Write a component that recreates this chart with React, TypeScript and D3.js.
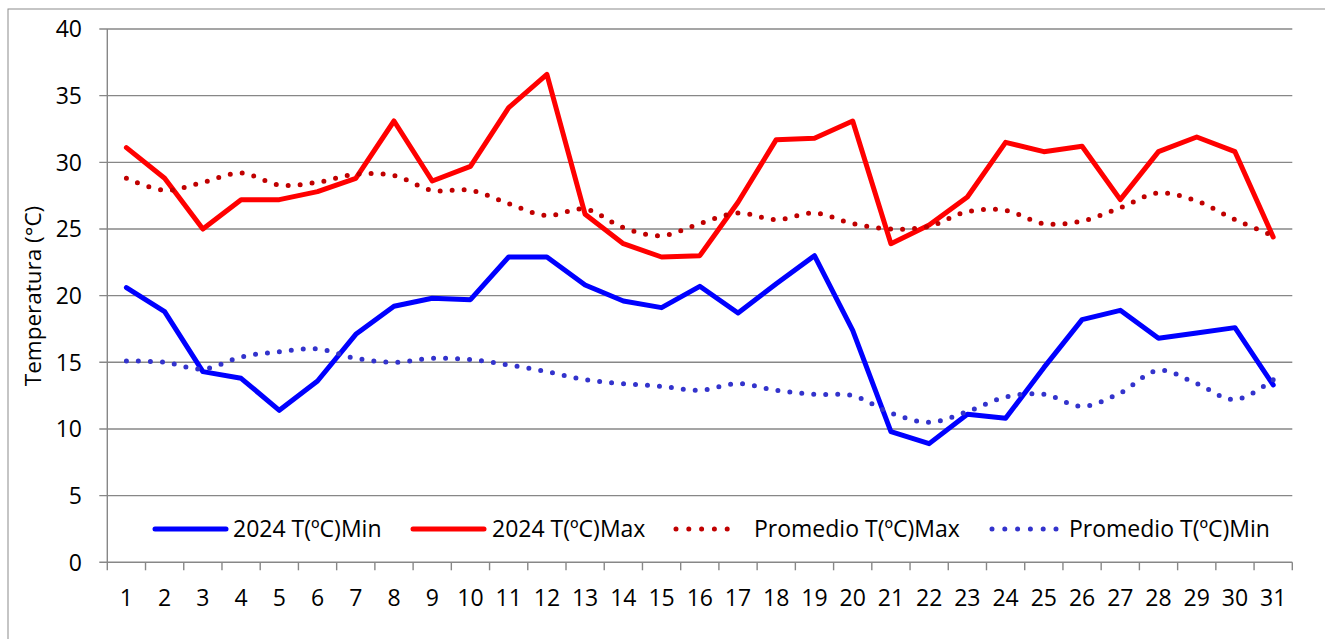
import React from "react";
import * as d3 from "d3";

// days of the month (categories)
const days = d3.range(1, 32).map(String);

const min2024 = [
  20.6, 18.8, 14.3, 13.8, 11.4, 13.6, 17.1, 19.2, 19.8, 19.7, 22.9, 22.9, 20.8, 19.6, 19.1, 20.7,
  18.7, 20.9, 23.0, 17.4, 9.8, 8.9, 11.1, 10.8, 14.6, 18.2, 18.9, 16.8, 17.2, 17.6, 13.3,
];
const max2024 = [
  31.1, 28.8, 25.0, 27.2, 27.2, 27.8, 28.8, 33.1, 28.6, 29.7, 34.1, 36.6, 26.1, 23.9, 22.9, 23.0,
  27.0, 31.7, 31.8, 33.1, 23.9, 25.3, 27.4, 31.5, 30.8, 31.2, 27.2, 30.8, 31.9, 30.8, 24.4,
];
const avgMax = [
  28.8, 27.9, 28.5, 29.2, 28.3, 28.5, 29.1, 29.0, 27.9, 27.9, 26.9, 26.0, 26.5, 25.1, 24.5, 25.4,
  26.2, 25.7, 26.2, 25.4, 25.0, 25.2, 26.3, 26.4, 25.4, 25.6, 26.6, 27.7, 27.1, 25.7, 24.5,
];
const avgMin = [
  15.1, 15.0, 14.5, 15.4, 15.8, 16.0, 15.3, 15.0, 15.3, 15.2, 14.8, 14.3, 13.7, 13.4, 13.2, 12.9,
  13.4, 12.9, 12.6, 12.5, 11.2, 10.5, 11.3, 12.4, 12.6, 11.7, 12.7, 14.4, 13.4, 12.2, 13.7,
];
const yTicks = [0, 5, 10, 15, 20, 25, 30, 35, 40];

const seriesList = [
  { name: "2024 T(ºC)Min", values: min2024, color: "#0000FF", dotted: false },
  { name: "2024 T(ºC)Max", values: max2024, color: "#FF0000", dotted: false },
  { name: "Promedio T(ºC)Max", values: avgMax, color: "#C00000", dotted: true },
  { name: "Promedio T(ºC)Min", values: avgMin, color: "#3333CC", dotted: true },
];

const W = 1325;
const H = 639;
const left = 107.3;
const right = 1292.3;
const top = 29;
const bottom = 562.3;
const font = "'Open Sans', sans-serif";
const fs = 23;
const gridColor = "#878787";

// legend item positions (symbol start, text start)
const legendPos = [
  [155, 233],
  [413, 492],
  [676, 754],
  [992, 1069],
];

export default function App() {
  const x = d3.scaleBand<string>().domain(days).range([left, right]);
  const y = d3.scaleLinear().domain([0, 40]).range([bottom, top]);
  const cx = (d: string) => (x(d) as number) + x.bandwidth() / 2;

  const straight = d3
    .line<number>()
    .x((_, i) => cx(days[i]))
    .y((v) => y(v));
  const smooth = d3
    .line<number>()
    .x((_, i) => cx(days[i]))
    .y((v) => y(v))
    .curve(d3.curveCatmullRom.alpha(0.5));

  const boundaries = days.map((d) => x(d) as number).concat([right]);

  return (
    <svg
      width={W}
      height={H}
      style={{ position: "absolute", left: 0, top: 0, background: "#fff" }}
    >
      <rect x={8} y={9} width={W} height={H} fill="#fff" stroke="#8c8c8c" strokeWidth={1} />

      {/* gridlines */}
      {yTicks.map((t) => (
        <g key={t}>
          <line x1={left - 8} x2={right} y1={y(t)} y2={y(t)} stroke={gridColor} strokeWidth={1.4} />
          <text
            x={82}
            y={y(t)}
            dy="0.36em"
            textAnchor="end"
            fontFamily={font}
            fontSize={fs}
            fill="#000"
          >
            {t}
          </text>
        </g>
      ))}

      {/* axes */}
      <line x1={left} x2={left} y1={top} y2={bottom} stroke={gridColor} strokeWidth={1.4} />
      {boundaries.map((b, i) => (
        <line key={i} x1={b} x2={b} y1={bottom} y2={bottom + 8} stroke={gridColor} strokeWidth={1.4} />
      ))}
      {days.map((d) => (
        <text
          key={d}
          x={cx(d)}
          y={597.5}
          dy="0.36em"
          textAnchor="middle"
          fontFamily={font}
          fontSize={fs}
          fill="#000"
        >
          {d}
        </text>
      ))}

      <text
        transform={`translate(33,296) rotate(-90)`}
        textAnchor="middle"
        dy="0.36em"
        fontFamily={font}
        fontSize={22.5}
        fill="#000"
      >
        Temperatura (°C)
      </text>

      {/* series */}
      {seriesList.map((s) => (
        <path
          key={s.name}
          d={(s.dotted ? smooth : straight)(s.values) || ""}
          fill="none"
          stroke={s.color}
          strokeWidth={5}
          strokeLinecap="round"
          strokeLinejoin="round"
          strokeDasharray={s.dotted ? "0 12" : undefined}
        />
      ))}

      {/* legend */}
      {seriesList.map((s, i) => {
        const [lx, tx] = legendPos[i];
        return (
          <g key={s.name}>
            <line
              x1={lx}
              x2={s.dotted ? lx + 64 : lx + 71}
              y1={529}
              y2={529}
              stroke={s.color}
              strokeWidth={5}
              strokeLinecap="round"
              strokeDasharray={s.dotted ? "0 12.8" : undefined}
            />
            <text x={tx} y={529} dy="0.36em" fontFamily={font} fontSize={fs} fill="#000">
              {s.name}
            </text>
          </g>
        );
      })}
    </svg>
  );
}
